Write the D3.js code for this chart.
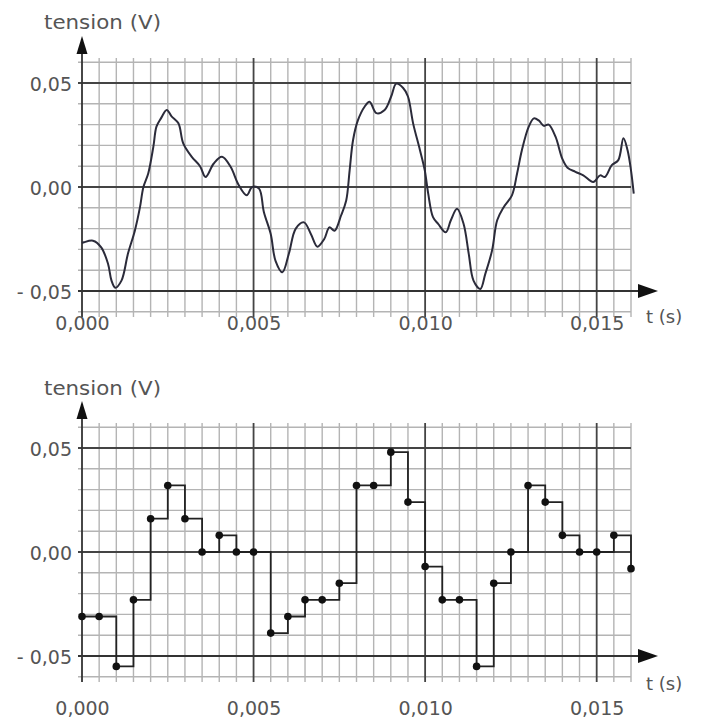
<!DOCTYPE html>
<html>
<head>
<meta charset="utf-8">
<script src="https://cdn.jsdelivr.net/npm/d3@7"></script>
<style>
  body { margin: 0; background: #fff; }
  text { font-family: "DejaVu Sans", sans-serif; fill: #555; }
</style>
</head>
<body>
<script>
// signal recorded (top) - time in s, tension in V
var tSignal = [0, 0.00006, 0.00032, 0.00056, 0.00076, 0.00086, 0.00097, 0.00115, 0.00134, 0.00154,
  0.00169, 0.00179, 0.00193, 0.00208, 0.00217, 0.0023, 0.00247, 0.00261, 0.00281, 0.00295,
  0.0032, 0.00344, 0.0036, 0.00384, 0.00408, 0.00433, 0.00457, 0.0048, 0.00496, 0.00516,
  0.0053, 0.0055, 0.00564, 0.00584, 0.00603, 0.00623, 0.00647, 0.00667, 0.00686, 0.00706,
  0.00721, 0.00736, 0.00755, 0.0077, 0.0078, 0.0079, 0.00804, 0.00824, 0.00838, 0.00858,
  0.00882, 0.00901, 0.00916, 0.00936, 0.0095, 0.00965, 0.00985, 0.00999, 0.01009, 0.01023,
  0.01038, 0.0106, 0.01075, 0.01093, 0.01112, 0.01127, 0.01141, 0.01161, 0.01175, 0.01195,
  0.0121, 0.01229, 0.01253, 0.01268, 0.01282, 0.01302, 0.01317, 0.01331, 0.01346, 0.0136,
  0.0138, 0.014, 0.01415, 0.01438, 0.01461, 0.0149, 0.0151, 0.01524, 0.01544, 0.01563,
  0.01578, 0.0159, 0.016, 0.01608];
var vSignal = [-0.027, -0.0266, -0.0258, -0.029, -0.037, -0.045, -0.0484, -0.045, -0.032, -0.021,
  -0.0097, 0, 0.0065, 0.0194, 0.029, 0.033, 0.037, 0.034, 0.0306, 0.021,
  0.0145, 0.01, 0.0048, 0.0113, 0.0145, 0.0097, 0.0008, -0.004, 0, -0.0008,
  -0.012, -0.0226, -0.0355, -0.041, -0.032, -0.02, -0.017, -0.0226, -0.0287, -0.025,
  -0.0194, -0.021, -0.0137, -0.0065, 0.008, 0.0226, 0.032, 0.0387, 0.041, 0.0355,
  0.037, 0.0435, 0.0497, 0.0476, 0.0435, 0.0306, 0.0177, 0.008, -0.0032, -0.0145,
  -0.0177, -0.0218, -0.016, -0.0105, -0.0177, -0.032, -0.045, -0.049, -0.042, -0.0306,
  -0.016, -0.0097, -0.004, 0.0065, 0.0177, 0.029, 0.033, 0.032, 0.0294, 0.03,
  0.0242, 0.0135, 0.0093, 0.0073, 0.0056, 0.0024, 0.0056, 0.0048, 0.0105, 0.0129,
  0.0234, 0.0177, 0.008, -0.0032];

// sampled signal (bottom)
var tSamples = [0, 0.0005, 0.001, 0.0015, 0.002, 0.0025, 0.003, 0.0035, 0.004, 0.0045,
  0.005, 0.0055, 0.006, 0.0065, 0.007, 0.0075, 0.008, 0.0085, 0.009, 0.0095,
  0.010, 0.0105, 0.011, 0.0115, 0.012, 0.0125, 0.013, 0.0135, 0.014, 0.0145,
  0.015, 0.0155, 0.016];
var vSamples = [-0.031, -0.031, -0.055, -0.023, 0.016, 0.032, 0.016, 0, 0.008, 0,
  0, -0.039, -0.031, -0.023, -0.023, -0.015, 0.032, 0.032, 0.048, 0.024,
  -0.007, -0.023, -0.023, -0.055, -0.015, 0, 0.032, 0.024, 0.008, 0,
  0, 0.008, -0.008];

var xTickValues = [0, 0.005, 0.010, 0.015];
var xTickLabels = ["0,000", "0,005", "0,010", "0,015"];
var yTickValues = [-0.05, 0, 0.05];
var yTickLabels = ["- 0,05", "0,00", "0,05"];
var yLabel = "tension (V)";
var xLabel = "t (s)";

var width = 702, height = 726;
var svg = d3.select("body").append("svg")
    .attr("width", width)
    .attr("height", height);

var x = d3.scaleLinear().domain([0, 0.016]).range([82, 631]);

// grid lines every 0.0005 s and 0.01 V
var vLines = d3.range(0, 0.01601, 0.0005);
var hLines = d3.range(-0.06, 0.0601, 0.01);

function isMajorX(t) { return Math.abs(t / 0.005 - Math.round(t / 0.005)) < 1e-6; }
function isMajorY(v) { return Math.abs(v / 0.05 - Math.round(v / 0.05)) < 1e-6; }

function drawPanel(zeroY, labelGap, titleY, xLabelY) {
    var y = d3.scaleLinear().domain([-0.05, 0.05]).range([zeroY + 104, zeroY - 104]);
    var g = svg.append("g");
    var top = y(0.062), bottom = y(-0.0625);

    // minor grid
    g.selectAll(".vminor").data(vLines.filter(d => !isMajorX(d)))
        .enter().append("line")
        .attr("x1", d => x(d)).attr("x2", d => x(d))
        .attr("y1", top).attr("y2", bottom)
        .attr("stroke", "#b4b4b4").attr("stroke-width", 1.4);
    g.selectAll(".hminor").data(hLines.filter(d => !isMajorY(d)))
        .enter().append("line")
        .attr("x1", x(0) - 4).attr("x2", x(0.016))
        .attr("y1", d => y(d)).attr("y2", d => y(d))
        .attr("stroke", "#b4b4b4").attr("stroke-width", 1.4);

    // major grid
    g.selectAll(".vmajor").data(xTickValues.filter(d => d > 0))
        .enter().append("line")
        .attr("x1", d => x(d)).attr("x2", d => x(d))
        .attr("y1", top).attr("y2", bottom)
        .attr("stroke", "#444").attr("stroke-width", 1.8);
    g.selectAll(".hmajor").data(yTickValues.filter(d => d != -0.05))
        .enter().append("line")
        .attr("x1", x(0) - 4).attr("x2", x(0.016))
        .attr("y1", d => y(d)).attr("y2", d => y(d))
        .attr("stroke", "#444").attr("stroke-width", 1.8);

    // x axis with arrow (on the -0,05 line)
    g.append("line")
        .attr("x1", x(0) - 4).attr("x2", 644)
        .attr("y1", y(-0.05)).attr("y2", y(-0.05))
        .attr("stroke", "#333").attr("stroke-width", 1.8);
    g.append("path")
        .attr("d", "M638," + (y(-0.05) - 7) + "L658," + y(-0.05) + "L638," + (y(-0.05) + 7) + "Z")
        .attr("fill", "#111");

    // y axis with arrow
    g.append("line")
        .attr("x1", x(0)).attr("x2", x(0))
        .attr("y1", bottom).attr("y2", y(0.062) - 6)
        .attr("stroke", "#333").attr("stroke-width", 1.8);
    g.append("path")
        .attr("d", "M" + (x(0) - 5.5) + "," + (y(0.062) - 4) + "L" + x(0) + "," + (y(0.062) - 22) + "L" + (x(0) + 5.5) + "," + (y(0.062) - 4) + "Z")
        .attr("fill", "#111");

    // tick labels
    var ya = g.append("g")
        .attr("transform", "translate(" + x(0) + ",0)")
        .call(d3.axisLeft(y).tickValues(yTickValues).tickSize(0).tickPadding(10)
            .tickFormat((d, i) => yTickLabels[i]));
    ya.select(".domain").remove();
    ya.selectAll("text").style("font-size", "19px").attr("fill", "#555").attr("dy", "0.4em")
        .style("font-family", "DejaVu Sans");

    var xa = g.append("g")
        .attr("transform", "translate(0," + y(-0.05) + ")")
        .call(d3.axisBottom(x).tickValues(xTickValues).tickSize(0).tickPadding(labelGap)
            .tickFormat((d, i) => xTickLabels[i]));
    xa.select(".domain").remove();
    xa.selectAll("text").style("font-size", "19px").attr("fill", "#555")
        .style("font-family", "DejaVu Sans");

    // axis titles
    g.append("text")
        .attr("x", 44).attr("y", titleY)
        .attr("textLength", 117).attr("lengthAdjust", "spacingAndGlyphs")
        .style("font-size", "19px")
        .text(yLabel);
    g.append("text")
        .attr("x", 646).attr("y", xLabelY)
        .style("font-size", "18px")
        .text(xLabel);

    return y;
}

// top: continuous signal
var y1 = drawPanel(187, 26, 29, 323);
svg.append("path")
    .datum(tSignal.map((t, i) => [t, vSignal[i]]))
    .attr("fill", "none")
    .attr("stroke", "#2b2b3a")
    .attr("stroke-width", 2)
    .attr("stroke-linejoin", "round")
    .attr("d", d3.line().x(d => x(d[0])).y(d => y1(d[1])).curve(d3.curveCatmullRom.alpha(0.5)));

// bottom: sampled signal
var y2 = drawPanel(552, 46, 395, 690);
var samples = tSamples.map((t, i) => [t, vSamples[i]]);
svg.append("path")
    .datum(samples)
    .attr("fill", "none")
    .attr("stroke", "#222")
    .attr("stroke-width", 1.8)
    .attr("d", d3.line().x(d => x(d[0])).y(d => y2(d[1])).curve(d3.curveStepAfter));
svg.selectAll(".pt").data(samples)
    .enter().append("circle")
    .attr("cx", d => x(d[0]))
    .attr("cy", d => y2(d[1]))
    .attr("r", 3.8)
    .attr("fill", "#111");
</script>
</body>
</html>
